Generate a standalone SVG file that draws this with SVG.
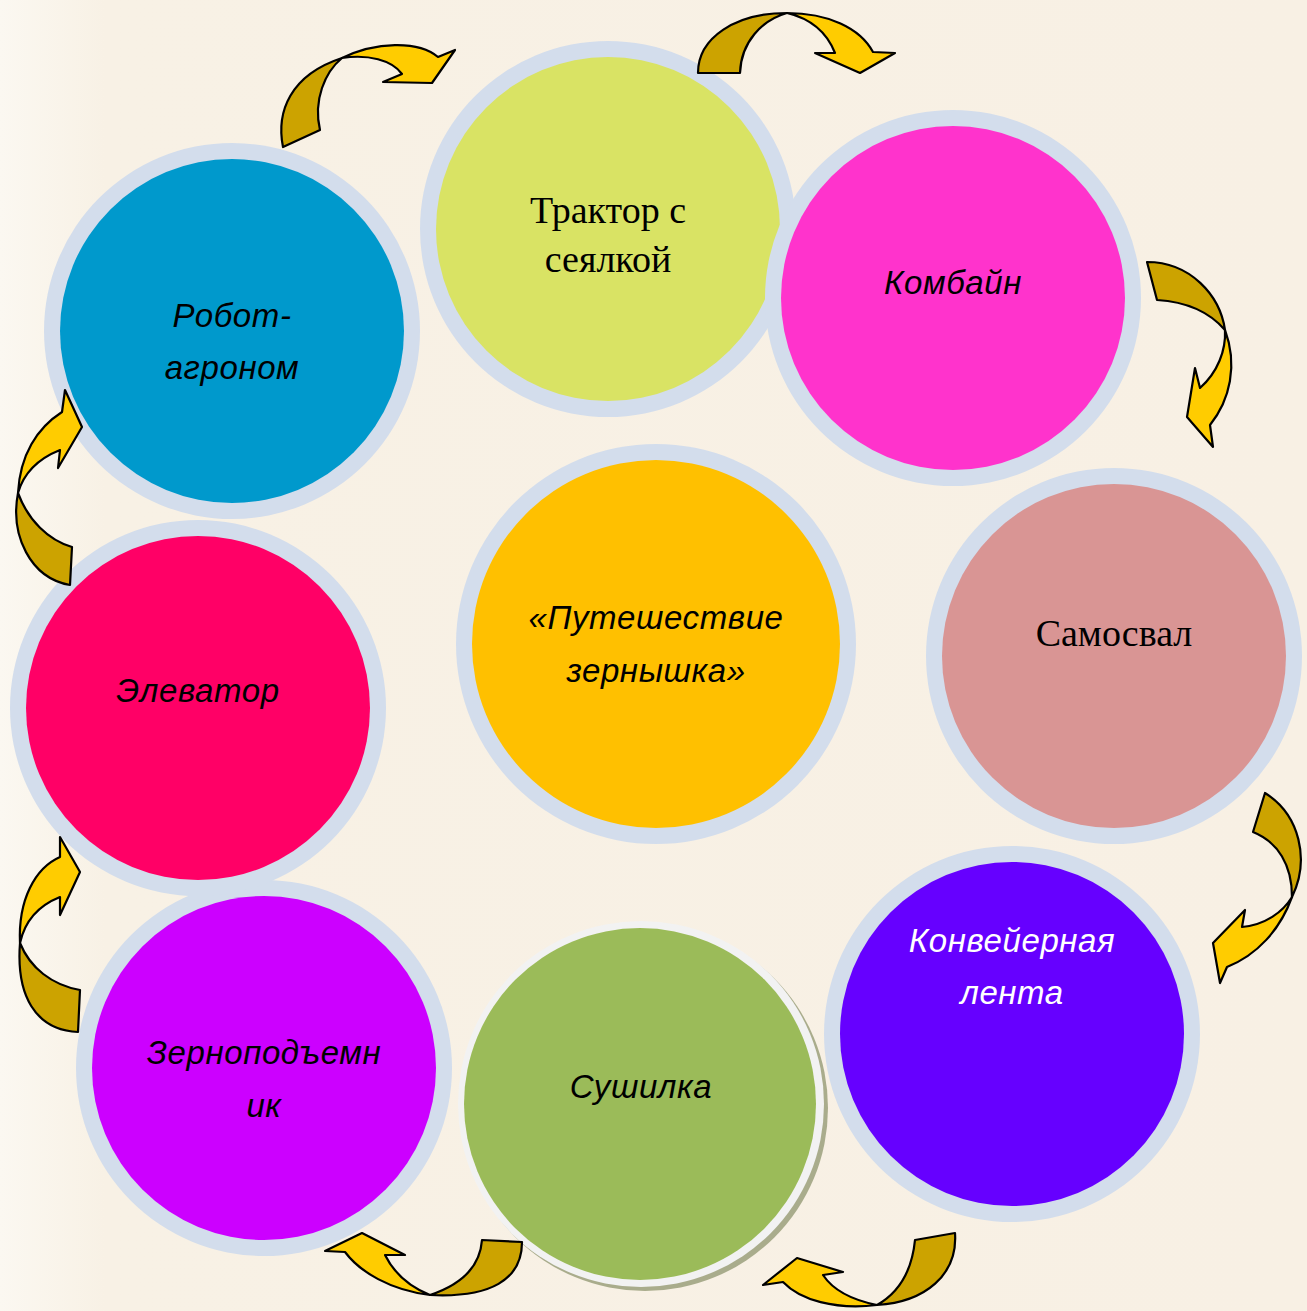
<svg xmlns="http://www.w3.org/2000/svg" width="1307" height="1311" viewBox="0 0 1307 1311">
<defs>
<style>
.ring{fill:#D3DDEC}
.lbl{font-family:"Liberation Sans","Open Sans",sans-serif;font-style:italic;font-size:33px;fill:#000;text-anchor:middle;letter-spacing:0.6px}
.ser{font-family:"Liberation Serif","Times New Roman",serif;font-size:38px;fill:#000;text-anchor:middle}
.dk{fill:#CCA300;stroke:#000;stroke-width:2.2;stroke-linejoin:round}
.lt{fill:#FFCC00;stroke:#000;stroke-width:2.2;stroke-linejoin:round}
</style>
<linearGradient id="bg" x1="0" y1="0" x2="1" y2="0">
<stop offset="0" stop-color="#FBF8F1"/>
<stop offset="0.08" stop-color="#F8F1E5"/>
<stop offset="1" stop-color="#F8F0E4"/>
</linearGradient>
</defs>
<rect width="1307" height="1311" fill="url(#bg)"/>

<g id="node-tractor">
<circle class="ring" cx="608" cy="229" r="188"/>
<circle cx="608" cy="229" r="172" fill="#D9E364"/>
<text class="ser" x="608" y="223">Трактор с</text>
<text class="ser" x="608" y="272">сеялкой</text>
</g>
<g id="node-combine">
<circle class="ring" cx="953" cy="298" r="188"/>
<circle cx="953" cy="298" r="172" fill="#FF33CC"/>
<text class="lbl" x="953" y="294">Комбайн</text>
</g>
<g id="node-dumptruck">
<circle class="ring" cx="1114" cy="656" r="188"/>
<circle cx="1114" cy="656" r="172" fill="#D99594"/>
<text class="ser" x="1114" y="646">Самосвал</text>
</g>
<g id="node-conveyor">
<circle class="ring" cx="1012" cy="1034" r="188"/>
<circle cx="1012" cy="1034" r="172" fill="#6600FF"/>
<text class="lbl" x="1012" y="952" style="fill:#fff">Конвейерная</text>
<text class="lbl" x="1012" y="1004" style="fill:#fff">лента</text>
</g>
<g id="node-dryer">
<circle cx="645" cy="1108" r="183" fill="#A9AC8C"/>
<circle cx="641" cy="1104" r="183" fill="#F2F2F2"/>
<circle cx="640" cy="1104" r="176" fill="#9BBB59"/>
<text class="lbl" x="641" y="1098">Сушилка</text>
</g>
<g id="node-grainlift">
<circle class="ring" cx="264" cy="1068" r="188"/>
<circle cx="264" cy="1068" r="172" fill="#CC00FF"/>
<text class="lbl" x="264" y="1064">Зерноподъемн</text>
<text class="lbl" x="264" y="1117">ик</text>
</g>
<g id="node-elevator">
<circle class="ring" cx="198" cy="708" r="188"/>
<circle cx="198" cy="708" r="172" fill="#FF0066"/>
<text class="lbl" x="198" y="702">Элеватор</text>
</g>
<g id="node-robot">
<circle class="ring" cx="232" cy="331" r="188"/>
<circle cx="232" cy="331" r="172" fill="#0099CC"/>
<text class="lbl" x="232" y="327">Робот-</text>
<text class="lbl" x="232" y="379">агроном</text>
</g>
<g id="node-center">
<circle class="ring" cx="656" cy="644" r="200"/>
<circle cx="656" cy="644" r="184" fill="#FFC000"/>
<text class="lbl" x="656" y="629">«Путешествие</text>
<text class="lbl" x="656" y="682">зернышка»</text>
</g>

<g id="connectors">
<path class="dk" d="M698,73 C698,38 735,13 787,13 C762,20 741,42 740,73 Z"/>
<path class="lt" d="M787,13 C828,13 860,28 873,52 L895,53 L860,73 L815,53 L835,53 C826,30 808,18 787,13 Z"/>
<path class="dk" d="M283,147 C276,112 290,75 342,58 C325,72 313,100 320,130 Z"/>
<path class="lt" d="M342,58 C375,42 418,40 438,57 L455,50 L432,83 L383,82 L402,74 C392,60 368,54 342,58 Z"/>
<path class="dk" d="M1147,262 C1190,262 1220,295 1225,330 C1212,315 1190,302 1157,300 Z"/>
<path class="lt" d="M1225,330 C1238,365 1230,400 1210,425 L1213,447 L1187,417 L1195,368 L1200,388 C1218,372 1226,350 1225,330 Z"/>
<path class="dk" d="M70,585 C30,578 10,535 18,493 C28,520 48,540 72,547 Z"/>
<path class="lt" d="M18,493 C20,455 37,428 62,412 L65,390 L82,427 L58,468 L60,450 C40,458 24,472 18,493 Z"/>
<path class="dk" d="M1265,793 C1300,815 1310,860 1292,897 C1292,865 1278,842 1253,832 Z"/>
<path class="lt" d="M1292,897 C1280,930 1257,955 1227,967 L1220,983 L1213,943 L1245,910 L1242,927 C1265,925 1283,912 1292,897 Z"/>
<path class="dk" d="M78,1032 C35,1030 16,995 20,943 C30,968 52,985 80,990 Z"/>
<path class="lt" d="M20,943 C18,900 35,868 60,857 L60,837 L80,872 L60,915 L60,897 C40,905 25,920 20,943 Z"/>
<path class="dk" d="M522,1242 C522,1280 490,1298 430,1295 C460,1285 480,1268 482,1240 Z"/>
<path class="lt" d="M430,1295 C390,1290 360,1272 345,1252 L325,1251 L362,1233 L405,1255 L385,1255 C395,1275 410,1287 430,1295 Z"/>
<path class="dk" d="M955,1233 C958,1275 925,1302 877,1305 C900,1292 912,1270 915,1240 Z"/>
<path class="lt" d="M877,1305 C835,1310 800,1300 783,1282 L763,1285 L797,1258 L843,1272 L823,1275 C833,1290 852,1300 877,1305 Z"/>
</g>
</svg>
